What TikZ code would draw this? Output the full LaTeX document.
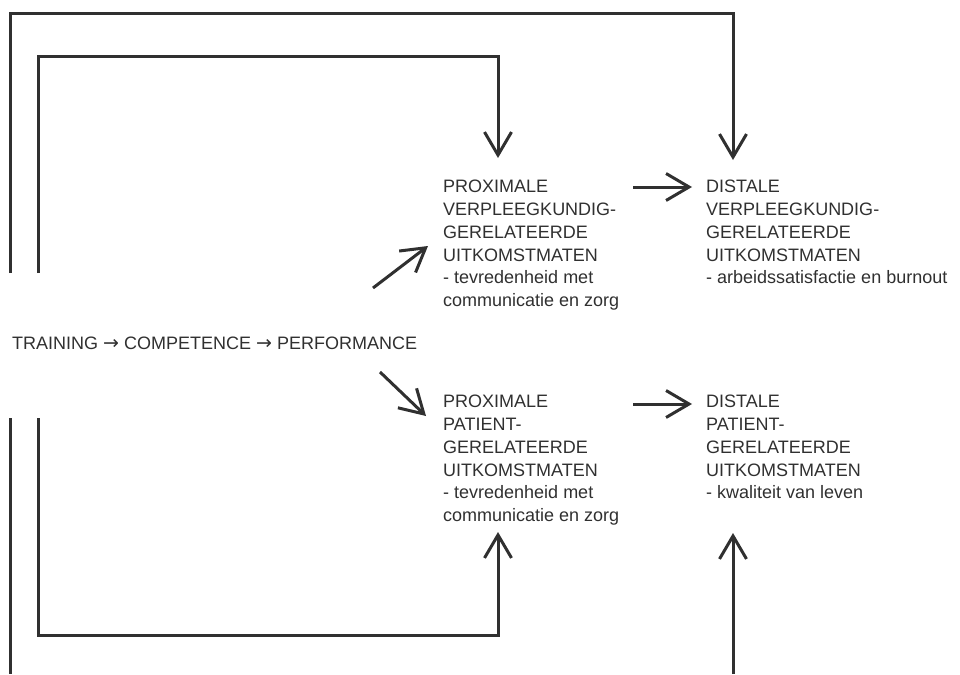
\documentclass[tikz,border=0pt]{standalone}
\usepackage{fontspec}
\setmainfont{Liberation Sans}
\newfontfamily\arrowfont{DejaVu Sans}
\usetikzlibrary{arrows.meta}
\definecolor{ink}{HTML}{303030}
\newcommand{\txtarrow}{{\arrowfont\fontsize{19}{22.8}\selectfont →}}
\begin{document}
\begin{tikzpicture}[x=1pt,y=-1pt,
  txt/.style={anchor=north west,inner sep=0pt,align=left,text=ink,
    font=\fontsize{18}{22.8}\selectfont},
  conn/.style={draw=ink,line width=3pt},
  arr/.style={conn,-{Straight Barb[length=23pt,width=27pt,line width=3pt]}}]
\useasboundingbox (0,0) rectangle (960,674);
% texts
\node[txt] (tcp) at (12,337) {TRAINING \txtarrow{} COMPETENCE \txtarrow{} PERFORMANCE};
\node[txt] (pv) at (443,180) {PROXIMALE\\VERPLEEGKUNDIG-\\GERELATEERDE\\UITKOMSTMATEN\\- tevredenheid met\\communicatie en zorg};
\node[txt] (dv) at (706,180) {DISTALE\\VERPLEEGKUNDIG-\\GERELATEERDE\\UITKOMSTMATEN\\- arbeidssatisfactie en burnout};
\node[txt] (pp) at (443,395) {PROXIMALE\\PATIENT-\\GERELATEERDE\\UITKOMSTMATEN\\- tevredenheid met\\communicatie en zorg};
\node[txt] (dp) at (706,395) {DISTALE\\PATIENT-\\GERELATEERDE\\UITKOMSTMATEN\\- kwaliteit van leven};
% connector endpoints
\coordinate (ua) at (373,288);
\coordinate (ub) at (428,246);
\coordinate (la) at (380,372);
\coordinate (lb) at (426,416);
\coordinate (ha1) at (633,187);
\coordinate (hb1) at (692,187);
\coordinate (ha2) at (633,404);
\coordinate (hb2) at (692,404);
% feedback loop corners
\coordinate (o1) at (10,273);
\coordinate (o2) at (10,14);
\coordinate (o3) at (733,14);
\coordinate (o4) at (733,160);
\coordinate (i1) at (38,273);
\coordinate (i2) at (38,57);
\coordinate (i3) at (498,57);
\coordinate (i4) at (498,158);
\coordinate (j1) at (38,418);
\coordinate (j2) at (38,635);
\coordinate (j3) at (498,635);
\coordinate (j4) at (498,532);
\coordinate (k1) at (10,418);
\coordinate (k2) at (10,674);
\coordinate (m1) at (733,674);
\coordinate (m2) at (733,533);
% arrows
\draw[arr] (ua) -- (ub);
\draw[arr] (la) -- (lb);
\draw[arr] (ha1) -- (hb1);
\draw[arr] (ha2) -- (hb2);
\draw[arr] (o1) -- (o2) -- (o3) -- (o4);
\draw[arr] (i1) -- (i2) -- (i3) -- (i4);
\draw[arr] (j1) -- (j2) -- (j3) -- (j4);
\draw[conn] (k1) -- (k2);
\draw[arr] (m1) -- (m2);
\end{tikzpicture}
\end{document}
